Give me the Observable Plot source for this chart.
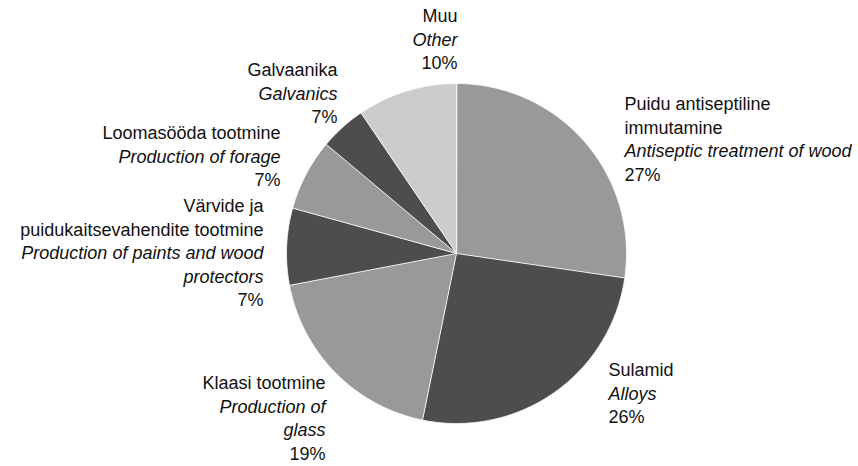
<!DOCTYPE html>
<html>
<head>
<meta charset="utf-8">
<script src="https://cdn.jsdelivr.net/npm/d3@7"></script>
<script src="https://cdn.jsdelivr.net/npm/@observablehq/plot@0.6"></script>
<style>
  html, body { margin: 0; padding: 0; background: #fff; }
  #chart svg { display: block; }
</style>
</head>
<body>
<div id="chart"></div>
<script>
// ---- data ----
const sliceIds = ["puidu", "sulamid", "klaasi", "varvide", "loomasooda", "galvaanika", "muu"];
const sliceValues = [27.3, 25.9, 18.8, 7.3, 6.8, 4.4, 9.5];
const labelsEt = [
  ["Puidu antiseptiline", "immutamine"],
  ["Sulamid"],
  ["Klaasi tootmine"],
  ["Värvide ja", "puidukaitsevahendite tootmine"],
  ["Loomasööda tootmine"],
  ["Galvaanika"],
  ["Muu"]
];
const labelsEn = [
  ["Antiseptic treatment of wood"],
  ["Alloys"],
  ["Production of", "glass"],
  ["Production of paints and wood", "protectors"],
  ["Production of forage"],
  ["Galvanics"],
  ["Other"]
];
const percentLabels = ["27%", "26%", "19%", "7%", "7%", "7%", "10%"];

// ---- layout (styles / positions, not data) ----
const sliceColors = ["#999999", "#4d4d4d", "#999999", "#4d4d4d", "#999999", "#4d4d4d", "#cccccc"];
const W = 858, H = 466, cx = 456, cy = 253, R = 170;
const lineH = 23.5;
// label block anchor in pixels: [x, y of first line center, textAnchor]
const labelLayout = [
  [624, 104, "start"],
  [608, 370, "start"],
  [325, 383, "end"],
  [263, 206, "end"],
  [280, 133, "end"],
  [337, 70, "end"],
  [457, 16, "end"]
];

// ---- slice polygons from pie angles ----
const arcs = d3.pie().sort(null).value(d => d)(sliceValues);
const polyPts = [];
arcs.forEach((a, i) => {
  polyPts.push({slice: sliceIds[i], color: sliceColors[i], x: 0, y: 0});
  const n = Math.max(2, Math.ceil((a.endAngle - a.startAngle) / (Math.PI / 360)));
  for (let k = 0; k <= n; k++) {
    const t = a.startAngle + (a.endAngle - a.startAngle) * k / n;
    polyPts.push({slice: sliceIds[i], color: sliceColors[i], x: Math.sin(t), y: Math.cos(t)});
  }
});

// ---- label rows ----
const textRows = [];
sliceIds.forEach((id, i) => {
  const [px, py, anchor] = labelLayout[i];
  const lines = [
    ...labelsEt[i].map(t => ({t, italic: false})),
    ...labelsEn[i].map(t => ({t, italic: true})),
    {t: percentLabels[i], italic: false}
  ];
  lines.forEach((ln, j) => {
    textRows.push({
      slice: id, text: ln.t, italic: ln.italic, anchor,
      x: (px - cx) / R,
      y: (cy - (py + j * lineH)) / R
    });
  });
});

const font = "'Liberation Sans', Arial, Helvetica, sans-serif";
const textOpts = (rows, anchor, style) => Plot.text(rows.filter(r => r.anchor === anchor && r.italic === (style === "italic")), {
  x: "x", y: "y", text: "text", textAnchor: anchor, lineAnchor: "middle",
  fontSize: 18, fontStyle: style, fill: "#111", fontFamily: font
});

const chart = Plot.plot({
  width: W, height: H,
  margin: 0,
  x: {domain: [-1, 1], range: [cx - R, cx + R], axis: null},
  y: {domain: [-1, 1], range: [cy + R, cy - R], axis: null},
  color: {type: "identity"},
  style: {fontFamily: font, background: "#fff"},
  marks: [
    Plot.line(polyPts, {x: "x", y: "y", z: "slice", fill: "color", stroke: "#ffffff", strokeWidth: 0.8, curve: "linear-closed", strokeLinejoin: "round"}),
    textOpts(textRows, "start", "normal"),
    textOpts(textRows, "start", "italic"),
    textOpts(textRows, "end", "normal"),
    textOpts(textRows, "end", "italic")
  ]
});
document.getElementById("chart").appendChild(chart);
</script>
</body>
</html>
